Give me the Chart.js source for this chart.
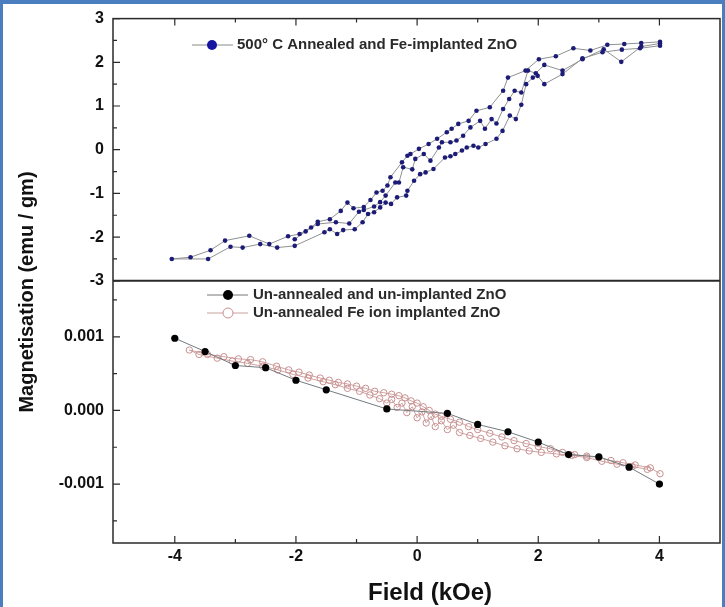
<!DOCTYPE html>
<html>
<head>
<meta charset="utf-8">
<script src="https://cdn.jsdelivr.net/npm/chart.js@4.4.1/dist/chart.umd.min.js"></script>
<style>
  html, body { margin: 0; padding: 0; background: #fff; }
  #wrap { position: relative; width: 725px; height: 607px; overflow: hidden; }
  .edge { position: absolute; background: #4a7ebf; }
</style>
</head>
<body>
<div id="wrap">
  <canvas id="chart" width="725" height="607"></canvas>
  <div class="edge" style="left:0;top:0;width:725px;height:4px"></div>
  <div class="edge" style="left:0;top:0;width:3px;height:607px"></div>
  <div class="edge" style="right:0;top:0;width:3px;height:607px"></div>
</div>
<script>
// axis ticks
const xTicks = [-4, -2, 0, 2, 4];
const xMinor = [-3, -1, 1, 3];
const topTicks = [3, 2, 1, 0, -1, -2, -3];
const topMinor = [2.5, 1.5, 0.5, -0.5, -1.5, -2.5];
const bottomTicks = [0.001, 0, -0.001];
const bottomMinor = [0.0015, 0.0005, -0.0005, -0.0015];

// 500 C annealed, Fe implanted : loop measured in three passes
const loopField1 = [4.01, 3.70, 3.42, 3.14, 2.86, 2.58, 2.29, 2.01, 1.79, 1.50,
  1.42, 1.20, 0.98, 0.85, 0.68, 0.57, 0.49, 0.33, 0.19, 0.03,
  -0.11, -0.16, -0.25, -0.44, -0.49, -0.57, -0.67, -0.77, -0.88, -1.05,
  -1.15, -1.26, -1.44, -1.64, -1.75, -1.94, -2.13, -2.44, -2.77, -3.17,
  -3.41, -3.74, -4.05];
const loopMag1 = [2.47, 2.44, 2.42, 2.40, 2.27, 2.32, 2.14, 2.07, 1.81, 1.65,
  1.35, 0.97, 0.89, 0.66, 0.59, 0.48, 0.40, 0.25, 0.13, 0.02,
  -0.10, -0.14, -0.29, -0.63, -0.82, -0.94, -0.98, -1.15, -1.31, -1.34,
  -1.21, -1.40, -1.59, -1.65, -1.78, -1.93, -1.98, -2.16, -1.97, -2.08,
  -2.30, -2.46, -2.50];

const loopField2 = [-3.45, -3.08, -2.88, -2.59, -2.31, -2.02, -1.53, -1.44, -1.32, -1.22,
  -1.03, -0.90, -0.81, -0.71, -0.61, -0.52, -0.43, -0.33, -0.18, -0.16,
  -0.05, 0.05, 0.14, 0.27, 0.46, 0.55, 0.63, 0.74, 0.82, 0.93,
  1.01, 1.13, 1.31, 1.41, 1.53, 1.63, 1.72, 1.80, 1.91, 1.99,
  2.10, 2.40, 2.73, 3.06, 3.38, 3.68, 4.01];
const loopMag2 = [-2.50, -2.22, -2.24, -2.16, -2.24, -2.20, -1.89, -1.82, -1.93, -1.84,
  -1.82, -1.66, -1.47, -1.43, -1.32, -1.21, -1.24, -1.09, -1.05, -0.94,
  -0.71, -0.56, -0.52, -0.44, -0.18, -0.15, -0.10, -0.02, 0.05, 0.09,
  0.05, 0.13, 0.25, 0.43, 0.78, 0.70, 1.03, 1.50, 1.65, 1.69,
  1.50, 1.73, 2.09, 2.23, 2.29, 2.32, 2.38];

const loopField3 = [4.01, 3.70, 3.37, 3.08, 2.73, 2.40, 2.10, 1.96, 1.83, 1.72,
  1.61, 1.52, 1.42, 1.31, 1.23, 1.12, 1.04, 0.88, 0.76, 0.65,
  0.55, 0.41, 0.36, 0.22, 0.11, -0.03, -0.08, -0.23, -0.30, -0.36,
  -0.52, -0.61, -0.71, -0.88, -0.96, -1.12, -1.34, -1.64, -1.84, -2.02];
const loopMag3 = [2.43, 2.36, 2.01, 2.30, 2.07, 1.81, 1.94, 1.75, 1.81, 1.31,
  1.35, 1.16, 0.93, 0.60, 0.70, 0.48, 0.66, 0.51, 0.32, 0.21,
  0.17, 0.17, 0.05, -0.25, -0.10, -0.21, -0.45, -0.40, -0.75, -0.75,
  -1.05, -1.20, -1.30, -1.38, -1.42, -1.69, -1.66, -1.70, -1.87, -2.05];

// un-annealed, un-implanted
const plainField = [-4, -3.5, -3, -2.5, -2, -1.5, -0.5, 0.5, 1, 1.5, 2, 2.5, 3, 3.5, 4];
const plainMag = [0.00098, 0.0008, 0.00061, 0.00058, 0.00041, 0.00028, 0.00002, -0.00004,
  -0.00019, -0.00029, -0.00043, -0.0006, -0.00063, -0.00077, -0.001];

// un-annealed, Fe implanted (down then up)
const implField1 = [4.01, 3.85, 3.6, 3.4, 3.2, 3.0, 2.8, 2.6, 2.4, 2.2,
  2.0, 1.8, 1.6, 1.4, 1.2, 1.0, 0.85, 0.7, 0.55, 0.4,
  0.3, 0.2, 0.1, 0.0, -0.1, -0.2, -0.3, -0.42, -0.55, -0.7,
  -0.85, -1.0, -1.15, -1.3, -1.45, -1.6, -1.78, -1.95, -2.12, -2.32,
  -2.55, -2.75, -2.95, -3.19, -3.46, -3.76];
const implMag1 = [-0.00086, -0.00078, -0.00074, -0.00071, -0.00068, -0.00064, -0.00062, -0.0006, -0.00057, -0.00052,
  -0.00049, -0.00045, -0.00041, -0.00036, -0.00031, -0.00026, -0.00022, -0.00016, -0.00012, -0.00008,
  -0.00005, 0.0, 0.00005, 0.0001, 0.00013, 0.00017, 0.0002, 0.00022, 0.00024, 0.00026,
  0.0003, 0.00033, 0.00036, 0.00038, 0.00041, 0.00044, 0.00048, 0.00052, 0.00055, 0.0006,
  0.00066, 0.00069, 0.0007, 0.00073, 0.00076, 0.00082];
const implField2 = [-3.6, -3.3, -3.05, -2.8, -2.55, -2.3, -2.05, -1.8, -1.55, -1.35,
  -1.15, -0.95, -0.78, -0.62, -0.5, -0.42, -0.33, -0.25, -0.17, -0.08,
  0.0, 0.08, 0.15, 0.23, 0.3, 0.4, 0.5, 0.6, 0.7, 0.87,
  1.05, 1.25, 1.45, 1.65, 1.85, 2.05, 2.3, 2.55, 2.8, 3.05,
  3.3, 3.55, 3.8];
const implMag2 = [0.00076, 0.00071, 0.00067, 0.00064, 0.0006, 0.00055, 0.00049, 0.00044, 0.00039, 0.00035,
  0.0003, 0.00026, 0.00021, 0.00016, 0.0001, 0.00015, 0.00004, 0.0001, -0.00003, 0.00005,
  -0.0001, -0.00002, -0.00017, -0.00008, -0.00022, -0.00014, -0.00026, -0.0002, -0.0003, -0.00034,
  -0.00038, -0.00043, -0.00048, -0.00052, -0.00055, -0.00057, -0.00059, -0.00061, -0.00064, -0.00069,
  -0.00073, -0.00076, -0.0008];

function pts(xs, ys) {
  return xs.map((x, i) => ({ x: x, y: ys[i] }));
}

const FONT = '"Liberation Sans", Arial, sans-serif';
const tickFont = { family: FONT, size: 16, weight: 'bold' };

const panelPlugin = {
  id: 'panels',
  afterDatasetsDraw(chart) {
    const { ctx, chartArea: a, scales } = chart;
    const x = scales.x, yT = scales.yT, yB = scales.yB;
    ctx.save();
    ctx.strokeStyle = '#2a2a2a';
    ctx.lineWidth = 1.5;
    ctx.strokeRect(a.left, a.top, a.right - a.left, a.bottom - a.top);
    ctx.lineWidth = 2;
    ctx.beginPath();
    ctx.moveTo(a.left, yT.bottom);
    ctx.lineTo(a.right, yT.bottom);
    ctx.stroke();

    ctx.lineWidth = 1.2;
    ctx.beginPath();
    const xMarks = xTicks.map(v => [v, 7]).concat(xMinor.map(v => [v, 4]));
    xMarks.forEach(([v, len]) => {
      const px = x.getPixelForValue(v);
      ctx.moveTo(px, a.bottom); ctx.lineTo(px, a.bottom - len);
      ctx.moveTo(px, a.top); ctx.lineTo(px, a.top + len);
    });
    const yMarks = topTicks.map(v => [yT, v, 7]).concat(topMinor.map(v => [yT, v, 4]),
      bottomTicks.map(v => [yB, v, 7]), bottomMinor.map(v => [yB, v, 4]));
    yMarks.forEach(([s, v, len]) => {
      const py = s.getPixelForValue(v);
      ctx.moveTo(a.left, py); ctx.lineTo(a.left + len, py);
    });
    ctx.stroke();
    ctx.restore();
  },
  afterDraw(chart) {
    const { ctx } = chart;
    ctx.save();
    ctx.fillStyle = '#111';
    ctx.textBaseline = 'middle';
    ctx.textAlign = 'center';
    ctx.font = 'bold 24px ' + FONT;
    ctx.fillText('Field (kOe)', 430, 593);
    ctx.translate(27, 292);
    ctx.rotate(-Math.PI / 2);
    ctx.font = 'bold 20px ' + FONT;
    ctx.fillText('Magnetisation (emu / gm)', 0, 0);
    ctx.restore();

    // legends
    ctx.save();
    ctx.lineWidth = 1;
    ctx.font = 'bold 15px ' + FONT;
    ctx.textBaseline = 'middle';
    ctx.textAlign = 'left';
    const rows = [
      { y: 45, x0: 192, x1: 233, mx: 212, fill: '#1414a0', stroke: null, line: '#8a8a8a', tx: 237, text: '500° C Annealed and Fe-implanted ZnO' },
      { y: 295, x0: 207, x1: 248, mx: 228, fill: '#000', stroke: null, line: '#777', tx: 253, text: 'Un-annealed and un-implanted ZnO' },
      { y: 313, x0: 207, x1: 248, mx: 228, fill: '#fff', stroke: '#c98f8f', line: '#c9a0a0', tx: 253, text: 'Un-annealed Fe ion implanted ZnO' }
    ];
    rows.forEach(r => {
      ctx.strokeStyle = r.line;
      ctx.beginPath(); ctx.moveTo(r.x0, r.y); ctx.lineTo(r.x1, r.y); ctx.stroke();
      ctx.beginPath(); ctx.arc(r.mx, r.y, 5, 0, Math.PI * 2);
      ctx.fillStyle = r.fill; ctx.fill();
      if (r.stroke) { ctx.strokeStyle = r.stroke; ctx.stroke(); }
      ctx.fillStyle = '#2a2a2a';
      ctx.fillText(r.text, r.tx, r.y);
    });
    ctx.restore();
  }
};

new Chart(document.getElementById('chart').getContext('2d'), {
  type: 'scatter',
  data: {
    datasets: [
      {
        label: 'Un-annealed and un-implanted ZnO',
        data: pts(plainField, plainMag),
        yAxisID: 'yB', showLine: true,
        borderColor: '#737b80', borderWidth: 1,
        pointRadius: 3.6, pointBackgroundColor: '#000', pointBorderColor: '#000', pointBorderWidth: 0
      },
      {
        label: 'Un-annealed Fe ion implanted ZnO',
        data: pts(implField1.concat(implField2), implMag1.concat(implMag2)),
        yAxisID: 'yB', showLine: true,
        borderColor: '#cfa3a3', borderWidth: 1,
        pointRadius: 3.2, pointBackgroundColor: 'rgba(255,255,255,0)', pointBorderColor: '#c98f8f', pointBorderWidth: 1
      },
      {
        label: '500° C Annealed and Fe-implanted ZnO',
        data: pts(loopField1.concat(loopField2, loopField3), loopMag1.concat(loopMag2, loopMag3)),
        yAxisID: 'yT', showLine: true,
        borderColor: '#8f9090', borderWidth: 1,
        pointRadius: 2.3, pointBackgroundColor: '#1c1c78', pointBorderColor: '#1c1c78', pointBorderWidth: 0
      }
    ]
  },
  options: {
    responsive: false,
    animation: false,
    devicePixelRatio: 1,
    layout: { padding: { top: 18, right: 5, left: 0, bottom: 0 } },
    plugins: { legend: { display: false }, tooltip: { enabled: false } },
    scales: {
      x: {
        type: 'linear', position: 'bottom', min: -5.02, max: 5,
        afterBuildTicks: s => { s.ticks = xTicks.map(v => ({ value: v })); },
        afterFit: s => { s.height = 64; },
        grid: { display: false, drawTicks: false },
        border: { display: false },
        ticks: { font: tickFont, color: '#111', padding: 4, callback: v => String(v) }
      },
      yB: {
        type: 'linear', position: 'left', stack: 'panels', stackWeight: 1,
        min: -0.0018, max: 0.00176,
        afterBuildTicks: s => { s.ticks = bottomTicks.map(v => ({ value: v })); },
        afterFit: s => { s.width = 113; },
        grid: { display: false, drawTicks: false },
        border: { display: false },
        ticks: { font: tickFont, color: '#111', padding: 9, callback: v => v.toFixed(3) }
      },
      yT: {
        type: 'linear', position: 'left', stack: 'panels', stackWeight: 1,
        min: -3, max: 3,
        afterBuildTicks: s => { s.ticks = topTicks.map(v => ({ value: v })); },
        afterFit: s => { s.width = 113; },
        grid: { display: false, drawTicks: false },
        border: { display: false },
        ticks: { font: tickFont, color: '#111', padding: 9, callback: v => String(v) }
      }
    }
  },
  plugins: [panelPlugin]
});
</script>
</body>
</html>
